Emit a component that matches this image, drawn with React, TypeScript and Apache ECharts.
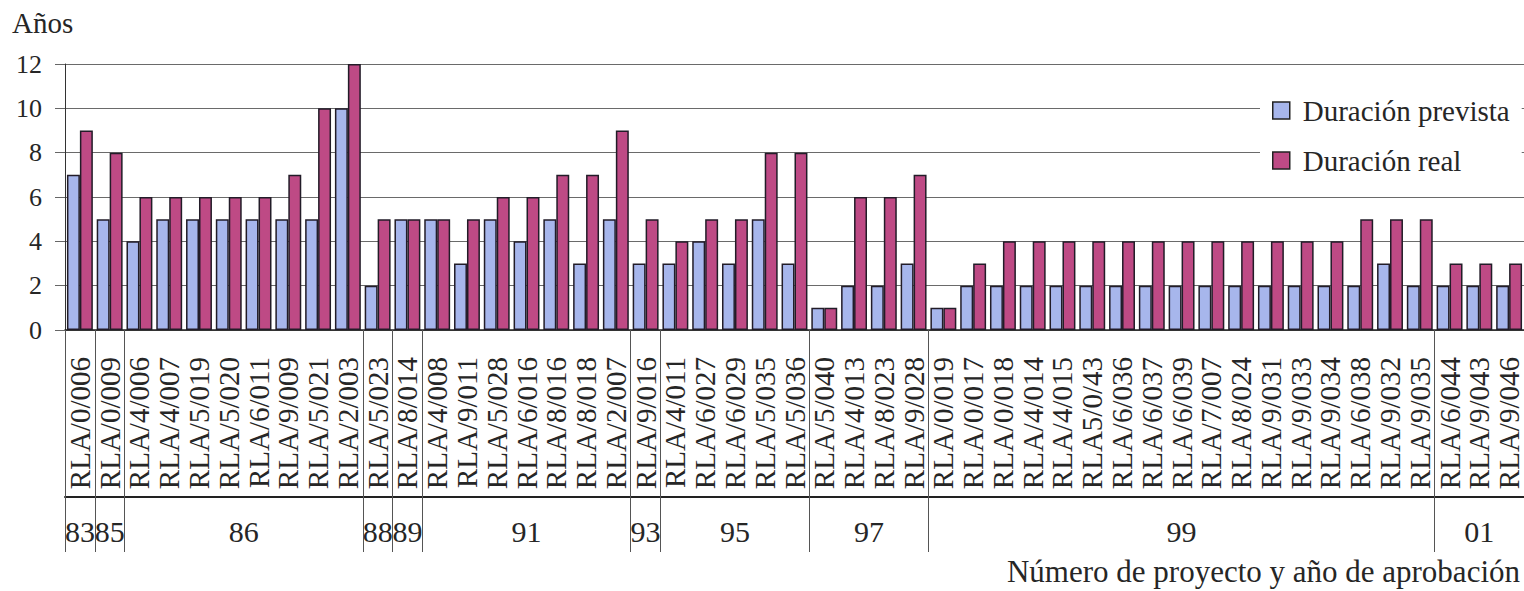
import React, { useEffect, useRef } from "react";
import * as echarts from "echarts";

const projects = [
  "RLA/0/006", "RLA/0/009", "RLA/4/006", "RLA/4/007", "RLA/5/019", "RLA/5/020",
  "RLA/6/011", "RLA/9/009", "RLA/5/021", "RLA/2/003", "RLA/5/023", "RLA/8/014",
  "RLA/4/008", "RLA/9/011", "RLA/5/028", "RLA/6/016", "RLA/8/016", "RLA/8/018",
  "RLA/2/007", "RLA/9/016", "RLA/4/011", "RLA/6/027", "RLA/6/029", "RLA/5/035",
  "RLA/5/036", "RLA/5/040", "RLA/4/013", "RLA/8/023", "RLA/9/028", "RLA/0/019",
  "RLA/0/017", "RLA/0/018", "RLA/4/014", "RLA/4/015", "RLA5/0/43", "RLA/6/036",
  "RLA/6/037", "RLA/6/039", "RLA/7/007", "RLA/8/024", "RLA/9/031", "RLA/9/033",
  "RLA/9/034", "RLA/6/038", "RLA/9/032", "RLA/9/035", "RLA/6/044", "RLA/9/043",
  "RLA/9/046",
];

const approvalYears = [
  "83", "85", "86", "86", "86", "86", "86", "86", "86", "86", "88", "89",
  "91", "91", "91", "91", "91", "91", "91", "93", "95", "95", "95", "95",
  "95", "97", "97", "97", "97", "99", "99", "99", "99", "99", "99", "99",
  "99", "99", "99", "99", "99", "99", "99", "99", "99", "99", "01", "01",
  "01",
];

const duracionPrevista = [
  7, 5, 4, 5, 5, 5, 5, 5, 5, 10, 2, 5,
  5, 3, 5, 4, 5, 3, 5, 3, 3, 4, 3, 5,
  3, 1, 2, 2, 3, 1, 2, 2, 2, 2, 2, 2,
  2, 2, 2, 2, 2, 2, 2, 2, 3, 2, 2, 2,
  2,
];

const duracionReal = [
  9, 8, 6, 6, 6, 6, 6, 7, 10, 12, 5, 5,
  5, 5, 6, 6, 7, 7, 9, 5, 4, 5, 5, 8,
  8, 1, 6, 6, 7, 1, 3, 4, 4, 4, 4, 4,
  4, 4, 4, 4, 4, 4, 4, 5, 5, 5, 3, 3,
  3,
];

const seriesNames = ["Duración prevista", "Duración real"];
const yAxisTitle = "Años";
const xAxisTitle = "Número de proyecto y año de aprobación";

const FONT = "Liberation Serif";
const TEXT = "#262626";

const isGroupStart = (i: number) => i === 0 || approvalYears[i] !== approvalYears[i - 1];

export default function App() {
  const ref = useRef<HTMLDivElement>(null);

  useEffect(() => {
    if (!ref.current) return;
    const chart = echarts.init(ref.current, null, { renderer: "svg" });
    const option: any = {
      animation: false,
      backgroundColor: "#ffffff",
      textStyle: { fontFamily: FONT },
      grid: { left: 65, top: 64, bottom: 261, right: -11, containLabel: false },
      legend: {
        orient: "vertical",
        left: 1260,
        top: 90,
        padding: [6, 12, 8, 12],
        backgroundColor: "#ffffff",
        itemWidth: 17,
        itemHeight: 17,
        itemGap: 21,
        icon: "rect",
        data: seriesNames,
        itemStyle: { borderColor: "#222", borderWidth: 1.5 },
        textStyle: { fontFamily: FONT, fontSize: 29, color: TEXT, padding: [0, 0, 0, 8] },
      },
      xAxis: [
        {
          type: "category",
          data: projects,
          axisLine: { show: true, lineStyle: { color: "#222", width: 1.5 } },
          axisTick: {
            show: true,
            length: 222,
            interval: (i: number) => isGroupStart(i),
            lineStyle: { color: "#555", width: 1 },
          },
          axisLabel: {
            interval: 0,
            rotate: 90,
            margin: 27,
            fontFamily: FONT,
            fontSize: 29,
            color: TEXT,
          },
          splitLine: { show: false },
        },
        {
          type: "category",
          data: projects,
          position: "bottom",
          offset: 167,
          axisLine: { show: true, lineStyle: { color: "#222", width: 2 } },
          axisTick: { show: false },
          axisLabel: { show: false },
          splitLine: { show: false },
        },
      ],
      yAxis: {
        type: "value",
        min: 0,
        max: 12,
        interval: 2,
        axisLine: { show: true, lineStyle: { color: "#333", width: 1 } },
        axisTick: { show: true, length: 10, lineStyle: { color: "#666" } },
        axisLabel: { margin: 23, fontFamily: FONT, fontSize: 26, color: TEXT },
        splitLine: { show: true, lineStyle: { color: "#6a6a6a", width: 1 } },
      },
      series: [
        {
          name: seriesNames[0],
          type: "bar",
          xAxisIndex: 0,
          data: duracionPrevista,
          barGap: "0%",
          barCategoryGap: "13%",
          itemStyle: { color: "#a7b6ec", borderColor: "#221c28", borderWidth: 1.5 },
        },
        {
          name: seriesNames[1],
          type: "bar",
          xAxisIndex: 0,
          data: duracionReal,
          barGap: "0%",
          barCategoryGap: "13%",
          itemStyle: { color: "#be4a85", borderColor: "#221c28", borderWidth: 1.5 },
        },
      ],
    };
    chart.setOption(option);

    const groups: { year: string; start: number; end: number }[] = [];
    approvalYears.forEach((y, i) => {
      if (isGroupStart(i)) groups.push({ year: y, start: i, end: i });
      else groups[groups.length - 1].end = i;
    });
    const yearTexts = groups.map((g) => {
      const x0 = chart.convertToPixel({ xAxisIndex: 0 }, g.start) as number;
      const x1 = chart.convertToPixel({ xAxisIndex: 0 }, g.end) as number;
      return {
        type: "text",
        x: (x0 + x1) / 2,
        y: 531,
        style: {
          text: g.year,
          align: "center",
          verticalAlign: "middle",
          fontFamily: FONT,
          fontSize: 30,
          fill: TEXT,
        },
      };
    });

    chart.setOption({
      graphic: [
        {
          type: "text",
          x: 12,
          y: 23,
          style: { text: yAxisTitle, verticalAlign: "middle", fontFamily: FONT, fontSize: 29, fill: TEXT },
        },
        {
          type: "text",
          x: 1520,
          y: 571,
          style: {
            text: xAxisTitle,
            align: "right",
            verticalAlign: "middle",
            fontFamily: FONT,
            fontSize: 31,
            fill: TEXT,
          },
        },
        ...yearTexts,
      ],
    });

    return () => chart.dispose();
  }, []);

  return (
    <div
      ref={ref}
      style={{ position: "fixed", left: 0, top: 0, width: 1524, height: 591, background: "#fff" }}
    />
  );
}
